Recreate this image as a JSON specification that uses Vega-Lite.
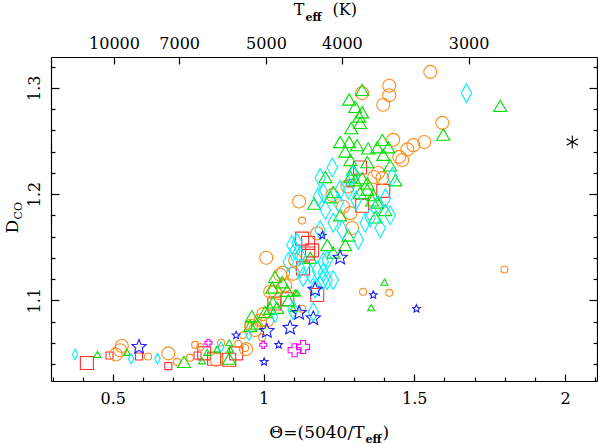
{
  "$schema": "https://vega.github.io/schema/vega-lite/v6.json",
  "width": 546,
  "height": 324,
  "autosize": {"type": "none"},
  "padding": {"left": 51, "top": 57, "right": 1, "bottom": 63},
  "background": "white",
  "config": {
    "view": {"stroke": null},
    "axis": {
      "labelFont": "DejaVu Serif", "titleFont": "DejaVu Serif",
      "labelColor": "#000", "titleColor": "#000", "tickColor": "#000", "domainColor": "#000",
      "grid": false, "labelFlush": false, "labelOverlap": false, "labelBound": false,
      "titleFontWeight": "normal", "tickWidth": 1.2, "domainWidth": 1.2
    }
  },
  "data": {"values": [
    {"t":0.414,"d":1.041,"g":"sq","s":"L"},{"t":0.489,"d":1.048,"g":"sq","s":"S"},{"t":0.587,"d":1.047,"g":"sq","s":"S"},{"t":0.684,"d":1.038,"g":"sq","s":"S"},{"t":0.781,"d":1.048,"g":"sq","s":"S"},{"t":0.803,"d":1.050,"g":"sq","s":"L"},{"t":0.836,"d":1.045,"g":"sq","s":"L"},{"t":0.886,"d":1.044,"g":"sq","s":"L"},{"t":0.909,"d":1.050,"g":"sq","s":"L"},{"t":1.036,"d":1.097,"g":"sq","s":"L"},{"t":1.079,"d":1.101,"g":"sq","s":"L"},{"t":1.131,"d":1.130,"g":"sq","s":"L"},{"t":1.148,"d":1.144,"g":"sq","s":"L"},{"t":1.178,"d":1.105,"g":"sq","s":"L"},{"t":1.397,"d":1.203,"g":"sq","s":"L"},{"t":1.327,"d":1.189,"g":"sq","s":"L"},{"t":1.128,"d":1.158,"g":"sq","s":"L"},{"t":1.148,"d":1.154,"g":"sq","s":"L"},{"t":1.161,"d":1.147,"g":"sq","s":"L"},{"t":1.320,"d":1.225,"g":"sq","s":"L"},{"t":1.288,"d":1.210,"g":"sq","s":"S"},
    {"t":0.510,"d":1.049,"g":"ci","s":"L"},{"t":0.524,"d":1.053,"g":"ci","s":"L"},{"t":0.530,"d":1.057,"g":"ci","s":"L"},{"t":0.617,"d":1.047,"g":"ci","s":"S"},{"t":0.684,"d":1.050,"g":"ci","s":"L"},{"t":0.713,"d":1.042,"g":"ci","s":"S"},{"t":0.756,"d":1.046,"g":"ci","s":"S"},{"t":0.773,"d":1.058,"g":"ci","s":"S"},{"t":0.790,"d":1.056,"g":"ci","s":"S"},{"t":0.843,"d":1.044,"g":"ci","s":"L"},{"t":0.859,"d":1.060,"g":"ci","s":"S"},{"t":0.916,"d":1.059,"g":"ci","s":"S"},{"t":0.939,"d":1.055,"g":"ci","s":"S"},{"t":0.942,"d":1.054,"g":"ci","s":"L"},{"t":0.949,"d":1.076,"g":"ci","s":"S"},{"t":0.959,"d":1.076,"g":"ci","s":"L"},{"t":0.999,"d":1.087,"g":"ci","s":"L"},{"t":0.932,"d":1.067,"g":"ci","s":"S"},{"t":0.989,"d":1.081,"g":"ci","s":"L"},{"t":0.995,"d":1.065,"g":"ci","s":"S"},{"t":1.012,"d":1.081,"g":"ci","s":"L"},{"t":0.972,"d":1.072,"g":"ci","s":"L"},{"t":1.128,"d":1.092,"g":"ci","s":"S"},{"t":1.038,"d":1.108,"g":"ci","s":"L"},{"t":1.022,"d":1.108,"g":"ci","s":"L"},{"t":1.055,"d":1.124,"g":"ci","s":"L"},{"t":1.065,"d":1.126,"g":"ci","s":"L"},{"t":1.072,"d":1.114,"g":"ci","s":"L"},{"t":1.049,"d":1.104,"g":"ci","s":"S"},{"t":1.009,"d":1.140,"g":"ci","s":"L"},{"t":1.118,"d":1.193,"g":"ci","s":"L"},{"t":1.128,"d":1.175,"g":"ci","s":"S"},{"t":1.288,"d":1.182,"g":"ci","s":"L"},{"t":1.294,"d":1.168,"g":"ci","s":"L"},{"t":1.264,"d":1.188,"g":"ci","s":"L"},{"t":1.178,"d":1.163,"g":"ci","s":"L"},{"t":1.105,"d":1.138,"g":"ci","s":"L"},{"t":1.098,"d":1.125,"g":"ci","s":"L"},{"t":1.330,"d":1.108,"g":"ci","s":"S"},{"t":1.417,"d":1.107,"g":"ci","s":"S"},{"t":1.799,"d":1.129,"g":"ci","s":"S"},{"t":1.553,"d":1.315,"g":"ci","s":"L"},{"t":1.417,"d":1.302,"g":"ci","s":"L"},{"t":1.417,"d":1.293,"g":"ci","s":"L"},{"t":1.397,"d":1.284,"g":"ci","s":"L"},{"t":1.327,"d":1.295,"g":"ci","s":"L"},{"t":1.430,"d":1.251,"g":"ci","s":"L"},{"t":1.533,"d":1.249,"g":"ci","s":"L"},{"t":1.497,"d":1.246,"g":"ci","s":"L"},{"t":1.477,"d":1.242,"g":"ci","s":"L"},{"t":1.450,"d":1.235,"g":"ci","s":"L"},{"t":1.460,"d":1.232,"g":"ci","s":"L"},{"t":1.380,"d":1.220,"g":"ci","s":"L"},{"t":1.367,"d":1.216,"g":"ci","s":"L"},{"t":1.394,"d":1.215,"g":"ci","s":"L"},{"t":1.278,"d":1.207,"g":"ci","s":"L"},{"t":1.228,"d":1.199,"g":"ci","s":"L"},{"t":1.593,"d":1.267,"g":"ci","s":"L"},
    {"t":0.449,"d":1.049,"g":"tr","s":"S"},{"t":0.547,"d":1.051,"g":"tr","s":"S"},{"t":0.736,"d":1.042,"g":"tr","s":"L"},{"t":0.796,"d":1.043,"g":"tr","s":"S"},{"t":0.813,"d":1.051,"g":"tr","s":"S"},{"t":0.846,"d":1.054,"g":"tr","s":"S"},{"t":0.886,"d":1.060,"g":"tr","s":"S"},{"t":0.889,"d":1.054,"g":"tr","s":"S"},{"t":0.886,"d":1.045,"g":"tr","s":"L"},{"t":0.961,"d":1.085,"g":"tr","s":"L"},{"t":0.956,"d":1.076,"g":"tr","s":"L"},{"t":0.978,"d":1.078,"g":"tr","s":"L"},{"t":1.031,"d":1.098,"g":"tr","s":"L"},{"t":1.022,"d":1.092,"g":"tr","s":"L"},{"t":1.045,"d":1.093,"g":"tr","s":"L"},{"t":1.005,"d":1.089,"g":"tr","s":"L"},{"t":1.038,"d":1.122,"g":"tr","s":"L"},{"t":1.062,"d":1.117,"g":"tr","s":"L"},{"t":1.078,"d":1.109,"g":"tr","s":"L"},{"t":1.111,"d":1.107,"g":"tr","s":"S"},{"t":1.082,"d":1.100,"g":"tr","s":"L"},{"t":1.029,"d":1.112,"g":"tr","s":"L"},{"t":1.098,"d":1.092,"g":"tr","s":"S"},{"t":1.105,"d":1.107,"g":"tr","s":"S"},
    {"t":1.168,"d":1.191,"g":"tr","s":"L"},{"t":1.205,"d":1.216,"g":"tr","s":"L"},{"t":1.221,"d":1.197,"g":"tr","s":"L"},{"t":1.320,"d":1.201,"g":"tr","s":"L"},{"t":1.344,"d":1.204,"g":"tr","s":"L"},{"t":1.360,"d":1.194,"g":"tr","s":"L"},{"t":1.370,"d":1.178,"g":"tr","s":"L"},{"t":1.377,"d":1.192,"g":"tr","s":"L"},{"t":1.281,"d":1.161,"g":"tr","s":"L"},{"t":1.271,"d":1.152,"g":"tr","s":"L"},{"t":1.211,"d":1.152,"g":"tr","s":"L"},{"t":1.231,"d":1.145,"g":"tr","s":"L"},{"t":1.155,"d":1.140,"g":"tr","s":"L"},{"t":1.401,"d":1.117,"g":"tr","s":"S"},{"t":1.357,"d":1.093,"g":"tr","s":"S"},
    {"t":1.327,"d":1.298,"g":"tr","s":"L"},{"t":1.284,"d":1.289,"g":"tr","s":"L"},{"t":1.304,"d":1.282,"g":"tr","s":"L"},{"t":1.327,"d":1.277,"g":"tr","s":"L"},{"t":1.317,"d":1.273,"g":"tr","s":"L"},{"t":1.320,"d":1.267,"g":"tr","s":"L"},{"t":1.291,"d":1.262,"g":"tr","s":"L"},{"t":1.254,"d":1.249,"g":"tr","s":"L"},{"t":1.284,"d":1.249,"g":"tr","s":"L"},{"t":1.310,"d":1.246,"g":"tr","s":"L"},{"t":1.271,"d":1.240,"g":"tr","s":"L"},{"t":1.347,"d":1.243,"g":"tr","s":"L"},{"t":1.394,"d":1.251,"g":"tr","s":"L"},{"t":1.377,"d":1.244,"g":"tr","s":"L"},{"t":1.414,"d":1.244,"g":"tr","s":"L"},{"t":1.397,"d":1.237,"g":"tr","s":"L"},{"t":1.288,"d":1.232,"g":"tr","s":"L"},{"t":1.344,"d":1.230,"g":"tr","s":"L"},{"t":1.420,"d":1.227,"g":"tr","s":"L"},{"t":1.297,"d":1.223,"g":"tr","s":"L"},{"t":1.288,"d":1.216,"g":"tr","s":"L"},{"t":1.304,"d":1.213,"g":"tr","s":"L"},{"t":1.327,"d":1.215,"g":"tr","s":"L"},{"t":1.344,"d":1.210,"g":"tr","s":"L"},{"t":1.231,"d":1.202,"g":"tr","s":"L"},{"t":1.364,"d":1.199,"g":"tr","s":"L"},{"t":1.254,"d":1.180,"g":"tr","s":"L"},{"t":1.437,"d":1.213,"g":"tr","s":"L"},{"t":1.404,"d":1.185,"g":"tr","s":"L"},{"t":1.596,"d":1.256,"g":"tr","s":"L"},{"t":1.785,"d":1.283,"g":"tr","s":"L"},
    {"t":0.375,"d":1.049,"g":"di","s":"S"},{"t":0.561,"d":1.045,"g":"di","s":"S"},{"t":0.648,"d":1.045,"g":"di","s":"S"},{"t":0.859,"d":1.056,"g":"di","s":"S"},{"t":0.952,"d":1.067,"g":"di","s":"S"},{"t":1.038,"d":1.084,"g":"di","s":"S"},{"t":1.094,"d":1.152,"g":"di","s":"L"},{"t":1.082,"d":1.136,"g":"di","s":"L"},{"t":1.121,"d":1.142,"g":"di","s":"L"},{"t":1.121,"d":1.130,"g":"di","s":"L"},{"t":1.155,"d":1.125,"g":"di","s":"L"},{"t":1.178,"d":1.128,"g":"di","s":"L"},{"t":1.198,"d":1.119,"g":"di","s":"L"},{"t":1.211,"d":1.138,"g":"di","s":"L"},{"t":1.171,"d":1.111,"g":"di","s":"L"},{"t":1.165,"d":1.089,"g":"di","s":"L"},{"t":1.198,"d":1.201,"g":"di","s":"L"},{"t":1.205,"d":1.185,"g":"di","s":"L"},{"t":1.248,"d":1.192,"g":"di","s":"L"},{"t":1.281,"d":1.204,"g":"di","s":"L"},{"t":1.354,"d":1.178,"g":"di","s":"L"},{"t":1.420,"d":1.180,"g":"di","s":"L"},{"t":1.337,"d":1.173,"g":"di","s":"L"},{"t":1.231,"d":1.173,"g":"di","s":"L"},{"t":1.261,"d":1.166,"g":"di","s":"L"},{"t":1.188,"d":1.166,"g":"di","s":"L"},{"t":1.111,"d":1.154,"g":"di","s":"L"},{"t":1.105,"d":1.147,"g":"di","s":"L"},{"t":1.198,"d":1.136,"g":"di","s":"L"},{"t":1.198,"d":1.126,"g":"di","s":"L"},{"t":1.231,"d":1.119,"g":"di","s":"L"},{"t":1.211,"d":1.119,"g":"di","s":"L"},{"t":1.131,"d":1.122,"g":"di","s":"L"},{"t":1.098,"d":1.091,"g":"di","s":"L"},{"t":1.228,"d":1.225,"g":"di","s":"L"},{"t":1.188,"d":1.215,"g":"di","s":"L"},{"t":1.427,"d":1.216,"g":"di","s":"L"},{"t":1.297,"d":1.218,"g":"di","s":"L"},{"t":1.181,"d":1.197,"g":"di","s":"L"},{"t":1.254,"d":1.204,"g":"di","s":"L"},{"t":1.307,"d":1.194,"g":"di","s":"L"},{"t":1.380,"d":1.190,"g":"di","s":"L"},{"t":1.404,"d":1.196,"g":"di","s":"L"},{"t":1.314,"d":1.157,"g":"di","s":"L"},{"t":1.387,"d":1.168,"g":"di","s":"L"},{"t":1.673,"d":1.295,"g":"di","s":"L"},
    {"t":0.587,"d":1.056,"g":"st","s":"L"},{"t":0.909,"d":1.067,"g":"st","s":"S"},{"t":1.011,"d":1.071,"g":"st","s":"L"},{"t":1.088,"d":1.074,"g":"st","s":"L"},{"t":1.050,"d":1.058,"g":"st","s":"S"},{"t":1.002,"d":1.042,"g":"st","s":"S"},{"t":1.171,"d":1.110,"g":"st","s":"L"},{"t":1.118,"d":1.088,"g":"st","s":"L"},{"t":1.165,"d":1.083,"g":"st","s":"L"},{"t":1.254,"d":1.140,"g":"st","s":"L"},{"t":1.195,"d":1.161,"g":"st","s":"S"},{"t":1.364,"d":1.105,"g":"st","s":"S"},{"t":1.507,"d":1.092,"g":"st","s":"S"},
    {"t":0.817,"d":1.060,"g":"cr","s":"S"},{"t":0.999,"d":1.058,"g":"cr","s":"S"},{"t":1.103,"d":1.053,"g":"cr","s":"L"},{"t":1.131,"d":1.056,"g":"cr","s":"L"},
    {"t":2.024,"d":1.249,"g":"as","s":"L"}
  ]},
  "layer": [
    {
      "mark": {"type": "point", "filled": false, "strokeWidth": 1.1, "opacity": 1},
      "encoding": {
        "x": {"field": "t", "type": "quantitative", "scale": {"domain": [0.295, 2.106], "nice": false, "zero": false},
          "axis": {"orient": "bottom", "values": [0.5, 1, 1.5, 2], "format": "~g", "tickSize": -7, "labelFontSize": 16, "labelPadding": 16,
            "title": "Θ=(5040/T", "titleX": 313, "titleY": 56, "titleAlign": "right", "titleBaseline": "alphabetic", "titleFontSize": 17}},
        "y": {"field": "d", "type": "quantitative", "scale": {"domain": [1.024, 1.329], "nice": false, "zero": false},
          "axis": {"orient": "left", "values": [1.1, 1.2, 1.3], "format": "~g", "tickSize": -8, "labelAngle": 270, "labelAlign": "center", "labelBaseline": "bottom", "labelFontSize": 16, "labelPadding": 17,
            "title": "D", "titleX": -34, "titleY": 176, "titleAngle": 270, "titleAlign": "left", "titleBaseline": "alphabetic", "titleFontSize": 17}},
        "shape": {"field": "g", "type": "nominal", "legend": null, "scale": {"domain": ["sq","ci","tr","di","st","cr","as"],
          "range": ["square", "circle", "triangle-up", "M0,-1.45L0.8,0L0,1.45L-0.8,0Z", "M0,-1.15L0.306,-0.421L1.094,-0.355L0.495,0.161L0.676,0.93L0,0.52L-0.676,0.93L-0.495,0.161L-1.094,-0.355L-0.306,-0.421Z", "cross", "M0,-1L0,1M-0.87,-0.5L0.87,0.5M-0.87,0.5L0.87,-0.5"]}},
        "color": {"field": "g", "type": "nominal", "legend": null, "scale": {"domain": ["sq","ci","tr","di","st","cr","as"],
          "range": ["#ff3030", "#ff8c1a", "#00e000", "#00f0ff", "#1a1aff", "#ff00ff", "#000000"]}},
        "size": {"field": "s", "type": "nominal", "legend": null, "scale": {"domain": ["L", "S"], "range": [169, 49]}}
      }
    },
    {
      "transform": [{"filter": "false"}],
      "mark": "point",
      "encoding": {
        "x": {"field": "t", "type": "quantitative", "scale": {"domain": [0.295, 2.106], "nice": false, "zero": false},
          "axis": {"orient": "top", "values": [0.504, 0.72, 1.008, 1.26, 1.68], "tickSize": -7, "labelFontSize": 16, "labelPadding": 13,
            "labelExpr": "datum.value < 0.6 ? '10000' : datum.value < 0.8 ? '7000' : datum.value < 1.1 ? '5000' : datum.value < 1.4 ? '4000' : '3000'",
            "title": "T", "titleX": 253, "titleY": -43, "titleAlign": "right", "titleBaseline": "alphabetic", "titleFontSize": 16}},
        "y": {"field": "d", "type": "quantitative", "scale": {"domain": [1.024, 1.329], "nice": false, "zero": false},
          "axis": {"orient": "right", "values": [1.1, 1.2, 1.3], "tickSize": -8, "labels": false, "title": null}}
      }
    },
    {
      "transform": [{"filter": "false"}],
      "mark": "point",
      "encoding": {
        "x": {"field": "t", "type": "quantitative", "scale": {"domain": [0.295, 2.106], "nice": false, "zero": false},
          "axis": {"orient": "bottom", "values": [0.3, 0.4, 0.6, 0.7, 0.8, 0.9, 1.1, 1.2, 1.3, 1.4, 1.6, 1.7, 1.8, 1.9, 2.1], "tickSize": -4, "labels": false, "domain": false,
            "title": "eff", "titleX": 314, "titleY": 61, "titleAlign": "left", "titleBaseline": "alphabetic", "titleFontSize": 11, "titleFontWeight": "bold"}},
        "y": {"field": "d", "type": "quantitative", "scale": {"domain": [1.024, 1.329], "nice": false, "zero": false},
          "axis": {"orient": "left", "values": [1.04, 1.06, 1.08, 1.12, 1.14, 1.16, 1.18, 1.22, 1.24, 1.26, 1.28, 1.32], "tickSize": -4, "labels": false, "domain": false,
            "title": "CO", "titleX": -30, "titleY": 162, "titleAngle": 270, "titleAlign": "left", "titleBaseline": "alphabetic", "titleFontSize": 11}}
      }
    },
    {
      "transform": [{"filter": "false"}],
      "mark": "point",
      "encoding": {
        "x": {"field": "t", "type": "quantitative", "scale": {"domain": [0.295, 2.106], "nice": false, "zero": false},
          "axis": {"orient": "bottom", "ticks": false, "labels": false, "domain": false,
            "title": ")", "titleX": 331, "titleY": 56, "titleAlign": "left", "titleBaseline": "alphabetic", "titleFontSize": 17}},
        "y": {"field": "d", "type": "quantitative", "scale": {"domain": [1.024, 1.329], "nice": false, "zero": false},
          "axis": {"orient": "right", "values": [1.04, 1.06, 1.08, 1.12, 1.14, 1.16, 1.18, 1.22, 1.24, 1.26, 1.28, 1.32], "tickSize": -4, "labels": false, "domain": false, "title": null}}
      }
    },
    {
      "transform": [{"filter": "false"}],
      "mark": "point",
      "encoding": {
        "x": {"field": "t", "type": "quantitative", "scale": {"domain": [0.295, 2.106], "nice": false, "zero": false},
          "axis": {"orient": "top", "ticks": false, "labels": false, "domain": false,
            "title": "eff", "titleX": 254, "titleY": -37, "titleAlign": "left", "titleBaseline": "alphabetic", "titleFontSize": 11, "titleFontWeight": "bold"}},
        "y": {"field": "d", "type": "quantitative", "scale": {"domain": [1.024, 1.329], "nice": false, "zero": false}, "axis": null}
      }
    },
    {
      "transform": [{"filter": "false"}],
      "mark": "point",
      "encoding": {
        "x": {"field": "t", "type": "quantitative", "scale": {"domain": [0.295, 2.106], "nice": false, "zero": false},
          "axis": {"orient": "top", "ticks": false, "labels": false, "domain": false,
            "title": "(K)", "titleX": 281, "titleY": -43, "titleAlign": "left", "titleBaseline": "alphabetic", "titleFontSize": 16}},
        "y": {"field": "d", "type": "quantitative", "scale": {"domain": [1.024, 1.329], "nice": false, "zero": false}, "axis": null}
      }
    }
  ],
  "resolve": {"axis": {"x": "independent", "y": "independent"}}
}
